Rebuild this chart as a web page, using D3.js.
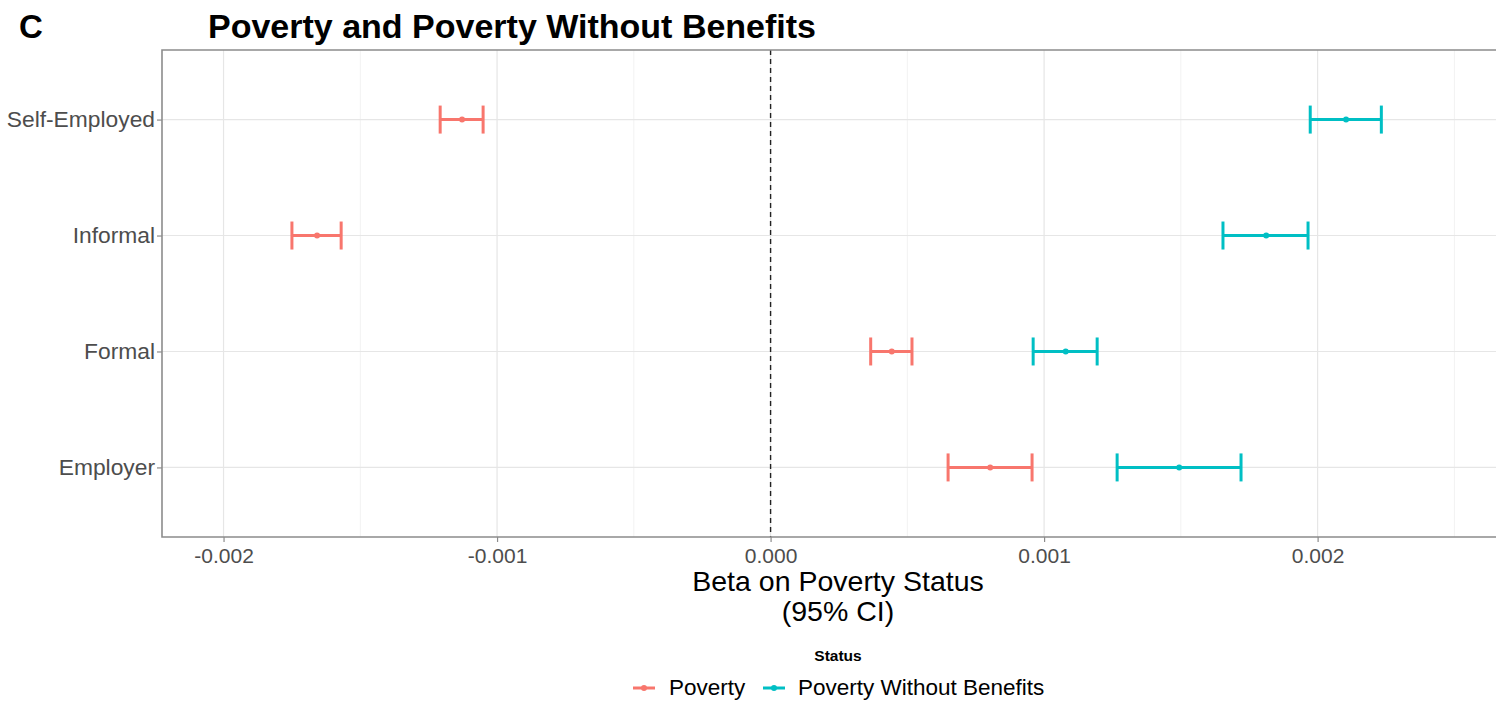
<!DOCTYPE html>
<html>
<head>
<meta charset="utf-8">
<script src="https://cdn.jsdelivr.net/npm/d3@7"></script>
<style>
  html, body { margin: 0; padding: 0; background: #fff; }
  svg { display: block; font-family: "Liberation Sans", Arial, Helvetica, sans-serif; }
</style>
</head>
<body>
<svg id="chart" width="1496" height="701"></svg>
<script>
// Employment categories, top to bottom
const categories = ["Self-Employed", "Informal", "Formal", "Employer"];
const statuses = ["Poverty", "Poverty Without Benefits"];
const statusColors = ["#F8766D", "#00BFC4"];

// Point estimates and 95% confidence bounds, one entry per category
const povertyEst  = [-0.001128, -0.001658, 0.000443, 0.000803];
const povertyLow  = [-0.001208, -0.001750, 0.000366, 0.000649];
const povertyHigh = [-0.001051, -0.001570, 0.000517, 0.000956];

const noBenefitsEst  = [0.002104, 0.001812, 0.001079, 0.001494];
const noBenefitsLow  = [0.001973, 0.001654, 0.000960, 0.001267];
const noBenefitsHigh = [0.002233, 0.001965, 0.001194, 0.001720];

const xTicks = [-0.002, -0.001, 0.000, 0.001, 0.002];
const xMinorTicks = [-0.0015, -0.0005, 0.0005, 0.0015, 0.0025];

const rows = [];
categories.forEach((c, i) => {
  rows.push({ cat: c, status: statuses[0], est: povertyEst[i], lo: povertyLow[i], hi: povertyHigh[i] });
  rows.push({ cat: c, status: statuses[1], est: noBenefitsEst[i], lo: noBenefitsLow[i], hi: noBenefitsHigh[i] });
});

const svg = d3.select("#chart");
const panel = { left: 162, right: 1514, top: 50, bottom: 537 };

const x = d3.scaleLinear()
  .domain([-0.002225, 0.002718])
  .range([panel.left, panel.right]);

const y = d3.scalePoint()
  .domain(categories)
  .range([panel.top, panel.bottom])
  .padding(0.6);

const color = d3.scaleOrdinal().domain(statuses).range(statusColors);

const g = svg.append("g");

// Grid lines
g.selectAll(".minor").data(xMinorTicks).enter().append("line")
  .attr("x1", d => x(d)).attr("x2", d => x(d))
  .attr("y1", panel.top).attr("y2", panel.bottom)
  .attr("stroke", "#f2f2f2").attr("stroke-width", 1);
g.selectAll(".major").data(xTicks).enter().append("line")
  .attr("x1", d => x(d)).attr("x2", d => x(d))
  .attr("y1", panel.top).attr("y2", panel.bottom)
  .attr("stroke", "#e6e6e6").attr("stroke-width", 1.2);
g.selectAll(".hgrid").data(categories).enter().append("line")
  .attr("x1", panel.left).attr("x2", panel.right)
  .attr("y1", d => y(d)).attr("y2", d => y(d))
  .attr("stroke", "#e6e6e6").attr("stroke-width", 1.2);

// Reference line at zero
g.append("line")
  .attr("x1", x(0)).attr("x2", x(0))
  .attr("y1", panel.top).attr("y2", panel.bottom)
  .attr("stroke", "#222").attr("stroke-width", 1.4)
  .attr("stroke-dasharray", "5,4");

// Error bars
const capHalf = 14;
const bars = g.selectAll(".bar").data(rows).enter().append("g")
  .attr("stroke", d => color(d.status))
  .attr("fill", d => color(d.status));
bars.append("line")
  .attr("x1", d => x(d.lo)).attr("x2", d => x(d.hi))
  .attr("y1", d => y(d.cat)).attr("y2", d => y(d.cat))
  .attr("stroke-width", 3);
bars.append("line")
  .attr("x1", d => x(d.lo)).attr("x2", d => x(d.lo))
  .attr("y1", d => y(d.cat) - capHalf).attr("y2", d => y(d.cat) + capHalf)
  .attr("stroke-width", 3);
bars.append("line")
  .attr("x1", d => x(d.hi)).attr("x2", d => x(d.hi))
  .attr("y1", d => y(d.cat) - capHalf).attr("y2", d => y(d.cat) + capHalf)
  .attr("stroke-width", 3);
bars.append("circle")
  .attr("cx", d => x(d.est)).attr("cy", d => y(d.cat))
  .attr("r", 3).attr("stroke", "none");

// Panel border (top, left, bottom)
const borderColor = "#8c8c8c";
g.append("path")
  .attr("d", `M${panel.right},${panel.top}H${panel.left}V${panel.bottom}H${panel.right}`)
  .attr("fill", "none").attr("stroke", borderColor).attr("stroke-width", 1.6);

// X axis
const xAxis = d3.axisBottom(x).tickValues(xTicks).tickFormat(d3.format(".3f")).tickSize(5).tickPadding(6);
const xa = svg.append("g").attr("transform", `translate(0,${panel.bottom})`).call(xAxis);
xa.select(".domain").remove();
xa.selectAll("line").attr("stroke", borderColor).attr("stroke-width", 1.2);
xa.selectAll("text").attr("fill", "#4d4d4d").attr("font-size", 21)
  .text(d => d3.format(".3f")(d).replace("−", "-"));

// Y axis
const yAxis = d3.axisLeft(y).tickSize(5).tickPadding(2);
const ya = svg.append("g").attr("transform", `translate(${panel.left},0)`).call(yAxis);
ya.select(".domain").remove();
ya.selectAll("line").attr("stroke", borderColor).attr("stroke-width", 1.2);
ya.selectAll("text").attr("fill", "#4d4d4d").attr("font-size", 22.8);

// Axis title
const cx = (panel.left + panel.right) / 2;
svg.append("text").attr("x", cx).attr("y", 591).attr("text-anchor", "middle")
  .attr("font-size", 28.5).attr("fill", "#000").text("Beta on Poverty Status");
svg.append("text").attr("x", cx).attr("y", 621).attr("text-anchor", "middle")
  .attr("font-size", 28.5).attr("fill", "#000").text("(95% CI)");

// Titles
svg.append("text").attr("x", 19).attr("y", 38).attr("font-size", 33)
  .attr("font-weight", "bold").text("C");
svg.append("text").attr("x", 208).attr("y", 38).attr("font-size", 34)
  .attr("font-weight", "bold").text("Poverty and Poverty Without Benefits");

// Legend
svg.append("text").attr("x", cx).attr("y", 661).attr("text-anchor", "middle")
  .attr("font-size", 15.5).attr("font-weight", "bold").text("Status");
const legendItems = [
  { status: statuses[0], keyX: 633, textX: 669 },
  { status: statuses[1], keyX: 763, textX: 798 }
];
const lg = svg.selectAll(".leg").data(legendItems).enter().append("g");
lg.append("line")
  .attr("x1", d => d.keyX).attr("x2", d => d.keyX + 22)
  .attr("y1", 688).attr("y2", 688)
  .attr("stroke", d => color(d.status)).attr("stroke-width", 3);
lg.append("circle")
  .attr("cx", d => d.keyX + 11).attr("cy", 688).attr("r", 3)
  .attr("fill", d => color(d.status));
lg.append("text")
  .attr("x", d => d.textX).attr("y", 695)
  .attr("font-size", 22.5).attr("fill", "#000").text(d => d.status);
</script>
</body>
</html>
